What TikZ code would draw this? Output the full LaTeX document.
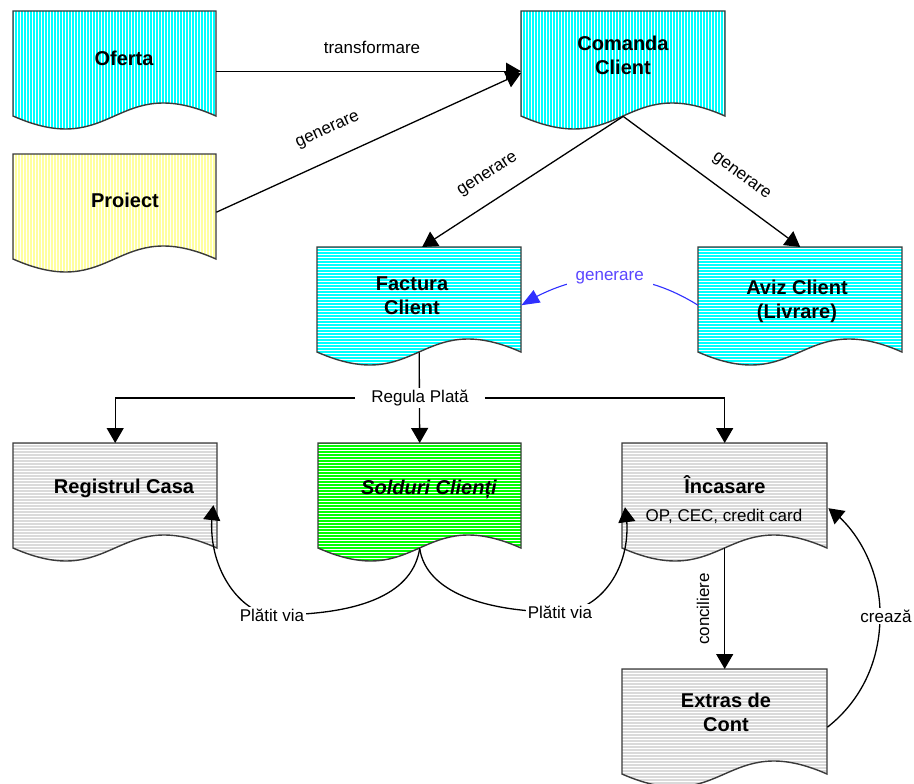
\documentclass[tikz,border=0pt]{standalone}
\usepackage{fontspec}
\setmainfont{Liberation Sans}
\usetikzlibrary{arrows.meta,bending,calc}
\definecolor{cy}{HTML}{00FFFF}
\definecolor{ye}{HTML}{FFFFA0}
\definecolor{gr}{HTML}{00FF00}
\definecolor{lg}{HTML}{DADADA}
\definecolor{bord}{HTML}{3A3A3A}
\definecolor{bl}{HTML}{3030FF}
\definecolor{bltxt}{HTML}{5A46FF}
\tikzset{
 docline/.style={draw=bord, line width=1.4pt},
 docbox/.style={rectangle, draw=none, inner sep=0pt, anchor=north west},
 title/.style={font=\fontsize{20}{24}\selectfont\bfseries, align=center, inner sep=1pt},
 lbl/.style={font=\fontsize{17}{20}\selectfont, inner sep=1.5pt},
 conn/.style={line width=1.3pt, draw=black, -{Triangle[length=15pt,width=17pt]}},
}
\newcommand\docshape[7]{%
  \def\mydocpath{(#2,#3) -- ({#2+#4},#3) -- ({#2+#4},{#3+105}) .. controls ({#2+0.5*#4},{#3+60}) and ({#2+0.5*#4},{#3+150}) .. (#2,{#3+105}) -- cycle}%
  \begin{scope}
    \clip \mydocpath;
    \fill[#5] \mydocpath;
    \ifx v#6
      \foreach \i in {0,3,...,210} \draw[white, line width=#7pt] ({#2+\i+1.5},{#3-2}) -- ++(0,130);
    \else
      \foreach \j in {0,3,...,126} \draw[white, line width=#7pt] ({#2-2},{#3+\j+1.5}) -- ++({#4+4},0);
    \fi
  \end{scope}
  \draw[docline] \mydocpath;
  \node[docbox, minimum width=#4pt, minimum height=105pt] (#1) at (#2,#3) {};
}
\begin{document}
\begin{tikzpicture}[x=1pt,y=-1pt]
\useasboundingbox (0,0) rectangle (914,784);
\fill[white] (0,0) rectangle (914,784);

% document shapes
\docshape{ofe}{13}{11}{203}{cy}{v}{1.1}
\docshape{pro}{13}{154}{203}{ye}{v}{1.4}
\docshape{com}{521}{11}{204}{cy}{v}{1.1}
\docshape{fac}{317}{247}{204}{cy}{h}{1.2}
\docshape{avi}{698}{247}{204}{cy}{h}{1.2}
\docshape{reg}{13}{443}{204}{lg}{h}{1.4}
\docshape{sol}{318}{443}{203}{gr}{h}{1.2}
\docshape{inc}{622}{443}{205}{lg}{h}{1.4}
\docshape{ext}{622}{669}{205}{lg}{h}{1.4}

% texts
\node[title] (ofeT) at (124,58) {Oferta};
\node[title] (proT) at (125,200) {Proiect};
\node[title] (comT) at (623,55) {Comanda\\Client};
\node[title] (facT) at (412,296) {Factura\\Client};
\node[title] (aviT) at (797,301) {Aviz Client\\(Livrare)};
\node[title] (regT) at (124,488) {Registrul Casa};
\node[title, font=\fontsize{20}{24}\selectfont\bfseries\itshape] (solT) at (429,489) {Solduri Clienți};
\node[title] (incT) at (725,485) {Încasare};
\node[lbl] (incS) at (724,516) {OP, CEC, credit card};
\node[title] (extT) at (726,712) {Extras de\\Cont};

% coordinates for connector ends
\coordinate (regIn) at ([shift={(-4pt,-9.5pt)}]reg.east);
\coordinate (incIn) at ([shift={(3pt,-11.5pt)}]inc.west);
\coordinate (incR) at ([shift={(1pt,-12.5pt)}]inc.east);
\coordinate (extR) at ([yshift=-5.5pt]ext.east);
\coordinate (pv1c) at (272,615);
\coordinate (pv2c) at (560,612);
\coordinate (crc) at (880,616);

% top connectors
\draw[conn] ([yshift=-7.5pt]ofe.east) -- ([yshift=-7.5pt]com.west);
\node[lbl] (trL) at (372,47) {transformare};
\draw[conn] ([yshift=-5.5pt]pro.east) -- ([yshift=-9.5pt]com.west);
\node[lbl, rotate=24.5] (g1) at (328,131) {generare};
\draw[conn] (com.south) -- ([xshift=3pt]fac.north);
\node[lbl, rotate=32.9] (g2) at (488,175) {generare};
\draw[conn] (com.south) -- (avi.north);
\node[lbl, rotate=-36.6] (g3) at (741,177) {generare};

% blue
\draw[line width=1.1pt, bl, -{Triangle[length=18pt,width=14pt]}] ([yshift=-5.5pt]avi.west) to[bend right=32] node[lbl, text=bltxt, fill=white, inner xsep=9pt] (g4) {generare} ([yshift=-5.5pt]fac.east);

% Regula Plata
\draw[conn] (fac.south) -- (sol.north);
\node[lbl, fill=white, inner xsep=16pt, inner ysep=2pt] (rp) at (420,398) {Regula Plată};
\draw[conn] (rp.west) -| (reg.north);
\draw[conn] (rp.east) -| (inc.north);

% Platit via
\draw[conn] (sol.south) .. controls (413,592) and (365,615) .. (pv1c) .. controls (240,613) and (203,565) .. (regIn);
\node[lbl, fill=white] (pv1) at (pv1c) {Plătit via};
\draw[conn] (sol.south) .. controls (426,592) and (485,612) .. (pv2c) .. controls (600,612) and (636,565) .. (incIn);
\node[lbl, fill=white] (pv2) at (pv2c) {Plătit via};

% conciliere
\draw[conn] (inc.south) -- (ext.north);
\node[lbl, rotate=90] (con) at (703,609) {conciliere};

% creaza
\draw[conn] (extR) .. controls (862,700) and (880,660) .. (crc) .. controls (881,575) and (860,530) .. (incR);
\node[lbl, fill=white] (cre) at (886,616) {crează};
\end{tikzpicture}
\end{document}
